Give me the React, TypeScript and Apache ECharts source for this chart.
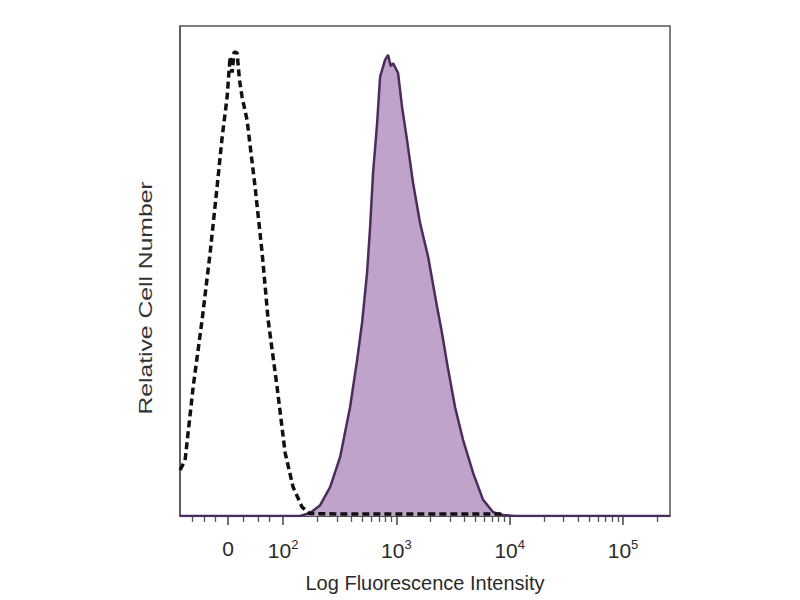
import React, { useEffect, useRef } from "react";
import * as echarts from "echarts";

// x values are in display decades (log10 of intensity; the region left of 10^2 is the linear "0" zone)
const majorTicks = [1.515, 2, 3, 4, 5];
const majorLabels = ["0", "10{s|2}", "10{s|3}", "10{s|4}", "10{s|5}"];
const minorTicks = [
  1.2, 1.3, 1.4, 1.65, 1.78, 1.88,
  2.301, 2.477, 2.602, 2.699, 2.778, 2.845, 2.903, 2.954,
  3.301, 3.477, 3.602, 3.699, 3.778, 3.845, 3.903, 3.954,
  4.301, 4.477, 4.602, 4.699, 4.778, 4.845, 4.903, 4.954,
  5.301,
];

// Isotype control (dashed)
const isotype: [number, number][] = [
  [1.091, 9.4], [1.135, 11.4], [1.206, 26.3], [1.285, 40], [1.356, 53.7],
  [1.417, 67.1], [1.462, 77.3], [1.506, 85.5], [1.532, 93.7], [1.55, 90.5],
  [1.568, 94.7], [1.594, 94.5], [1.615, 89], [1.638, 85.5], [1.682, 80.8],
  [1.753, 67.1], [1.815, 53.7], [1.868, 40], [1.947, 26.3], [2.018, 12.9],
  [2.088, 5.9], [2.168, 1.8], [2.238, 0.5], [2.5, 0.4], [3.0, 0.4],
  [3.5, 0.4], [3.95, 0.4],
];

// Stained sample (filled)
const stained: [number, number][] = [
  [1.09, 0], [2.15, 0], [2.238, 0.6], [2.327, 2.2], [2.415, 5.9], [2.503, 12.0],
  [2.591, 22.2], [2.653, 31.8], [2.697, 39.4], [2.741, 49.6], [2.768, 59.0],
  [2.794, 70.0], [2.83, 80.2], [2.856, 89.6], [2.9, 93.1], [2.927, 94.1],
  [2.95, 91.8], [2.971, 92.4], [3.015, 90.4], [3.05, 83.5], [3.094, 76.7],
  [3.147, 68.0], [3.209, 59.8], [3.28, 52.9], [3.359, 42.7], [3.403, 37.3],
  [3.447, 31.2], [3.518, 22.2], [3.589, 15.5], [3.677, 8.8], [3.765, 3.3],
  [3.853, 0.8], [3.942, 0.2], [4.05, 0], [5.415, 0],
];

const X_MIN = 1.09;
const X_MAX = 5.415;

export default function App() {
  const ref = useRef<HTMLDivElement>(null);
  useEffect(() => {
    if (!ref.current) return;
    const chart = echarts.init(ref.current, undefined, { renderer: "svg" });
    const font = "Liberation Sans, Arial, sans-serif";
    chart.setOption({
      animation: false,
      backgroundColor: "#ffffff",
      grid: {
        left: 180,
        right: 130,
        top: 26,
        bottom: 84,
        show: true,
        borderColor: "#555555",
        borderWidth: 1.5,
        backgroundColor: "transparent",
      },
      xAxis: [
        {
          type: "value",
          min: X_MIN,
          max: X_MAX,
          axisLine: { show: true, onZero: false, lineStyle: { color: "#444", width: 1.5 } },
          axisTick: {
            show: true,
            customValues: majorTicks,
            length: 9,
            inside: false,
            lineStyle: { color: "#444", width: 1.5 },
          },
          axisLabel: {
            show: true,
            customValues: majorTicks,
            margin: 22,
            fontSize: 21,
            fontFamily: font,
            color: "#2a2a2a",
            formatter: (v: number) => {
              const i = majorTicks.findIndex((t) => Math.abs(t - v) < 1e-6);
              return i >= 0 ? majorLabels[i] : "";
            },
            rich: {
              s: { fontSize: 13, verticalAlign: "top", padding: [0, 0, 12, 0], color: "#2a2a2a", fontFamily: font },
            },
          },
          splitLine: { show: false },
          name: "Log Fluorescence Intensity",
          nameLocation: "middle",
          nameGap: 57,
          nameTextStyle: { fontSize: 20, fontFamily: font, color: "#2a2a2a" },
        },
        {
          type: "value",
          min: X_MIN,
          max: X_MAX,
          position: "bottom",
          axisLine: { show: false },
          axisTick: {
            show: true,
            customValues: minorTicks,
            length: 6,
            lineStyle: { color: "#555", width: 1.3 },
          },
          axisLabel: { show: false },
          splitLine: { show: false },
        },
      ],
      yAxis: {
        type: "value",
        min: 0,
        max: 100,
        axisLine: { show: true, lineStyle: { color: "#555", width: 1.5 } },
        axisTick: { show: false },
        axisLabel: { show: false },
        splitLine: { show: false },
      },
      graphic: [
        {
          type: "text",
          x: 146,
          y: 298,
          rotation: Math.PI / 2,
          scaleX: 1.3,
          style: {
            text: "Relative Cell Number",
            font: `19px ${font}`,
            fill: "#333",
            textAlign: "center",
            textVerticalAlign: "middle",
          },
        },
      ],
      series: [
        {
          type: "line",
          data: stained,
          showSymbol: false,
          smooth: false,
          xAxisIndex: 0,
          lineStyle: { color: "#4b2c5e", width: 2.5 },
          areaStyle: { color: "#bfa3c9", opacity: 1 },
          z: 2,
        },
        {
          type: "line",
          data: isotype,
          showSymbol: false,
          smooth: false,
          xAxisIndex: 0,
          lineStyle: { color: "#111111", width: 3.5, type: [7, 4] },
          z: 3,
        },
      ],
    });
    return () => chart.dispose();
  }, []);
  return <div ref={ref} style={{ width: 800, height: 600, position: "absolute", left: 0, top: 0 }} />;
}
